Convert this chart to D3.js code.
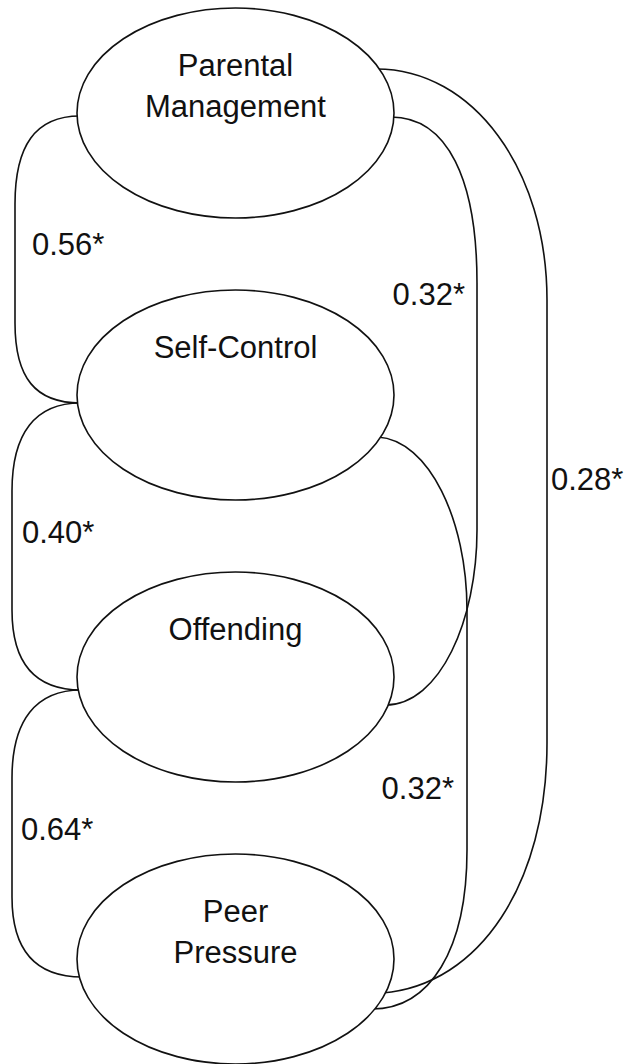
<!DOCTYPE html>
<html>
<head>
<meta charset="utf-8">
<script src="https://cdn.jsdelivr.net/npm/d3@7"></script>
<style>
  body { margin: 0; background: #fff; }
  text { font-family: "Liberation Sans", Arial, sans-serif; fill: #111; }
</style>
</head>
<body>
<div id="chart"></div>
<script>
// Constructs (top to bottom) and the text shown in each ellipse
var nodes = ["Parental Management", "Self-Control", "Offending", "Peer Pressure"];
var nodeLines = [["Parental", "Management"], ["Self-Control"], ["Offending"], ["Peer", "Pressure"]];

// Correlations between constructs
var corrFrom = ["Parental Management", "Self-Control", "Offending", "Parental Management", "Self-Control", "Parental Management"];
var corrTo = ["Self-Control", "Offending", "Peer Pressure", "Offending", "Peer Pressure", "Peer Pressure"];
var corrValues = ["0.56*", "0.40*", "0.64*", "0.32*", "0.32*", "0.28*"];

window.onload = function() {
    var w = 628, h = 1064;
    var svg = d3.select("#chart").append("svg")
        .attr("width", w)
        .attr("height", h);

    // Scales
    var yScale = d3.scalePoint()
        .domain(nodes)
        .range([113, 959]);
    var cx = 235.5, rx = 158.5, ry = 105;

    // point on the ellipse edge at a vertical offset dy from the centre
    function edge(name, dy, side) {
        var cy = yScale(name);
        var x = cx + side * rx * Math.sqrt(1 - (dy / ry) * (dy / ry));
        return [x - side * 3, cy + dy];
    }

    // layout of each connector: side, attachment offsets, lane x, label placement
    var layout = [
        {side: -1, dy0: 3, dy1: 8, lane: 15, lx: 17, ly: 0.484},
        {side: -1, dy0: 8, dy1: 13, lane: 12, lx: 10, ly: 0.488},
        {side: -1, dy0: 13, dy1: 18, lane: 12, lx: 9, ly: 0.523},
        {side: 1, dy0: 4, dy1: 28, lane: 477, lx: -12, ly: 0.32},
        {side: 1, dy0: 42, dy1: 50, lane: 467, lx: -13, ly: 0.633},
        {side: 1, dy0: -44, dy1: 34, lane: 547, lx: 4, ly: 0.456}
    ];

    var links = corrValues.map(function(v, i) {
        var L = layout[i];
        var p0 = edge(corrFrom[i], L.dy0, L.side);
        var p1 = edge(corrTo[i], L.dy1, L.side);
        var p = d3.path();
        var xv = L.lane;
        p.moveTo(p0[0], p0[1]);
        if (L.side < 0) {
            p.bezierCurveTo(p0[0] - 45, p0[1], xv, p0[1] + 30, xv, p0[1] + 88);
            p.lineTo(xv, p1[1] - 80);
            p.bezierCurveTo(xv, p1[1] - 25, p1[0] - 45, p1[1], p1[0], p1[1]);
        } else if (i == 3) {
            // Parental Management -> Offending, crosses the Self-Control line
            p.bezierCurveTo(p0[0] + 57, p0[1], xv, p0[1] + 63, xv, p0[1] + 166);
            p.lineTo(xv, p1[1] - 175);
            p.bezierCurveTo(xv, p1[1] - 85, xv - 37, p1[1], p1[0], p1[1]);
        } else if (i == 4) {
            p.bezierCurveTo(p0[0] + 51, p0[1] + 3, xv, p0[1] + 83, xv, p0[1] + 173);
            p.lineTo(xv, p1[1] - 159);
            p.bezierCurveTo(xv, p1[1] - 59, xv - 37, p1[1], p1[0], p1[1]);
        } else {
            p.bezierCurveTo(p0[0] + 97, p0[1], xv, p0[1] + 101, xv, p0[1] + 231);
            p.lineTo(xv, p1[1] - 250);
            p.bezierCurveTo(xv, p1[1] - 110, xv - 67, p1[1] - 8, p1[0], p1[1]);
        }
        return {path: p.toString(), p0: p0, p1: p1, value: v, L: L};
    });

    svg.selectAll("path.link")
        .data(links)
        .enter()
        .append("path")
        .attr("class", "link")
        .attr("d", function(d) { return d.path; })
        .attr("fill", "none")
        .attr("stroke", "#111")
        .attr("stroke-width", 1.6);

    svg.selectAll("text.corr")
        .data(links)
        .enter()
        .append("text")
        .attr("class", "corr")
        .attr("x", function(d) { return d.L.lane + d.L.lx; })
        .attr("y", function(d) { return d.p0[1] + (d.p1[1] - d.p0[1]) * d.L.ly; })
        .attr("text-anchor", function(d) { return d.L.lx < 0 ? "end" : "start"; })
        .style("font-size", "31px")
        .text(function(d) { return d.value; });

    // Ellipses
    var g = svg.selectAll("g.node")
        .data(nodes)
        .enter()
        .append("g")
        .attr("class", "node")
        .attr("transform", function(d) { return "translate(" + cx + "," + yScale(d) + ")"; });

    g.append("ellipse")
        .attr("rx", rx)
        .attr("ry", ry)
        .attr("fill", "#fff")
        .attr("stroke", "#111")
        .attr("stroke-width", 1.6);

    g.append("text")
        .attr("text-anchor", "middle")
        .style("font-size", "31px")
        .selectAll("tspan")
        .data(function(d, i) { return nodeLines[i]; })
        .enter()
        .append("tspan")
        .attr("x", 0)
        .attr("y", function(d, i) { return -37 + i * 41; })
        .text(function(d) { return d; });
};
</script>
</body>
</html>
